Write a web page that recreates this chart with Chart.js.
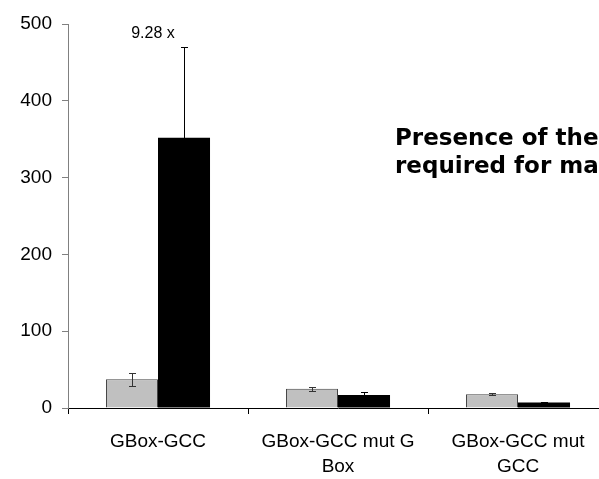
<!DOCTYPE html>
<html>
<head>
<meta charset="utf-8">
<script src="https://cdn.jsdelivr.net/npm/chart.js@4/dist/chart.umd.min.js"></script>
<style>
html, body { margin: 0; padding: 0; overflow: hidden; background: #fff; width: 599px; height: 479px; }
canvas { display: block; }
</style>
</head>
<body>
<canvas id="c" width="620" height="479"></canvas>
<script>
const categories = [["GBox-GCC"], ["GBox-GCC mut G", "Box"], ["GBox-GCC mut", "GCC"]];
const grayValues = [37.4, 25, 18];
const grayErrors = [8.5, 2.5, 1.3];
const blackValues = [352, 17, 7];
const blackErrors = [118, 4, 1.2];
const yTicks = [0, 100, 200, 300, 400, 500];
const foldLabel = "9.28 x";
const noteLines = ["Presence of the", "required for ma"];

const errorBars = {
  id: 'errorBars',
  afterDatasetsDraw(chart) {
    const ctx = chart.ctx;
    const y = chart.scales.y;
    const sets = [
      { idx: 0, err: grayErrors, color: '#333' },
      { idx: 1, err: blackErrors, color: '#000' }
    ];
    ctx.save();
    ctx.lineWidth = 1;
    sets.forEach(s => {
      const meta = chart.getDatasetMeta(s.idx);
      const vals = chart.data.datasets[s.idx].data;
      meta.data.forEach((bar, i) => {
        const x = Math.round(bar.x) + 0.5;
        const top = Math.round(y.getPixelForValue(vals[i] + s.err[i])) + 0.5;
        const bot = Math.round(y.getPixelForValue(vals[i] - s.err[i])) + 0.5;
        ctx.strokeStyle = s.color;
        ctx.beginPath();
        ctx.moveTo(x, top); ctx.lineTo(x, bot);
        ctx.moveTo(x - 3.5, top); ctx.lineTo(x + 3.5, top);
        ctx.moveTo(x - 3.5, bot); ctx.lineTo(x + 3.5, bot);
        ctx.stroke();
      });
    });
    ctx.restore();
  }
};

const notes = {
  id: 'notes',
  afterDraw(chart) {
    const ctx = chart.ctx;
    ctx.save();
    ctx.fillStyle = '#000';
    ctx.font = '16px "Liberation Sans", Arial, sans-serif';
    ctx.textAlign = 'center';
    ctx.textBaseline = 'middle';
    ctx.fillText(foldLabel, 153, 34);
    ctx.font = 'bold 23px "DejaVu Sans", sans-serif';
    ctx.textAlign = 'left';
    ctx.textBaseline = 'alphabetic';
    ctx.fillText(noteLines[0], 395, 145);
    ctx.fillText(noteLines[1], 395, 173);
    ctx.restore();
  }
};

new Chart(document.getElementById('c'), {
  type: 'bar',
  data: {
    labels: categories,
    datasets: [
      { data: grayValues, backgroundColor: '#C0C0C0', borderColor: '#444', borderWidth: 1 },
      { data: blackValues, backgroundColor: '#000', borderColor: '#000', borderWidth: 0 }
    ]
  },
  plugins: [errorBars, notes],
  options: {
    responsive: false,
    animation: false,
    devicePixelRatio: 1,
    layout: { padding: { top: 24, right: 12, left: 0, bottom: 0 } },
    plugins: { legend: { display: false }, tooltip: { enabled: false } },
    datasets: { bar: { categoryPercentage: 0.578, barPercentage: 1 } },
    scales: {
      x: {
        afterFit(s) { s.height = 71; },
        grid: { display: true, drawOnChartArea: false, drawTicks: true, tickLength: 6, color: '#000', offset: true },
        border: { display: true, color: '#000', width: 1 },
        ticks: { color: '#000', padding: 16, maxRotation: 0, autoSkip: false,
          font: { family: '"Liberation Sans", Arial, sans-serif', size: 19, lineHeight: 1.28 } }
      },
      y: {
        min: 0, max: 500,
        afterFit(s) { s.width = 68; },
        afterBuildTicks(s) { s.ticks = yTicks.map(v => ({ value: v })); },
        grid: { display: true, drawOnChartArea: false, drawTicks: true, tickLength: 6, color: '#808080' },
        border: { display: true, color: '#808080', width: 1 },
        ticks: { color: '#000', padding: 10,
          font: { family: '"Liberation Sans", Arial, sans-serif', size: 19 } }
      }
    }
  }
});
</script>
</body>
</html>
